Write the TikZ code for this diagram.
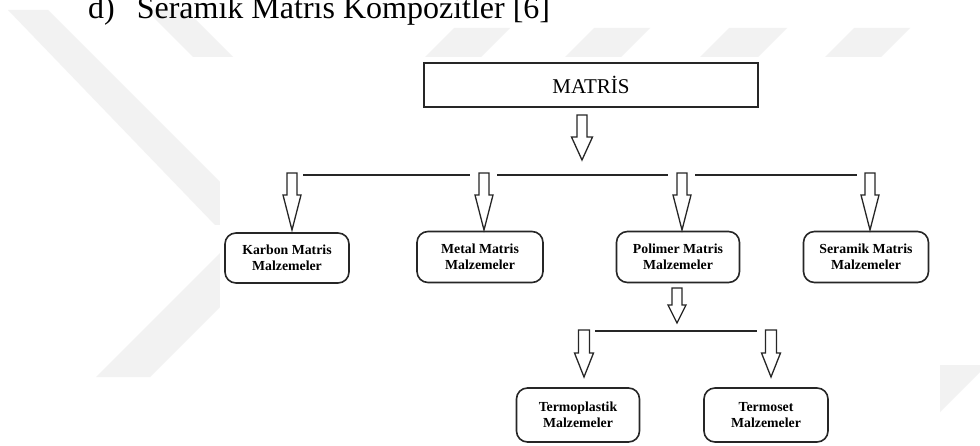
\documentclass[tikz,border=0pt]{standalone}
\usepackage{fontspec}
\setmainfont{Liberation Serif}
\begin{document}
\begin{tikzpicture}[x=1pt,y=-1pt,
  wm/.style={fill=black!5,draw=none},
  rbox/.style={draw=black!85,line width=1.6pt,rounded corners=11pt,inner sep=0pt,
    align=center,font=\bfseries\fontsize{13.8}{15.5}\selectfont},
  mbox/.style={draw=black!85,line width=1.6pt,inner sep=0pt,font=\fontsize{21}{24}\selectfont},
  hline/.style={draw=black!85,line width=1.6pt},
  barrow/.style={draw=black!85,line width=1.3pt,fill=white,line join=miter}]
\useasboundingbox (0,0) rectangle (980,446);
\fill[white] (0,0) rectangle (980,446);
% watermark stripes
\fill[wm] (8,10) -- (48,10) -- (220,182) -- (220,225) -- (215,225) -- cycle;
\fill[wm] (146,10) -- (186,10) -- (233,57) -- (193,57) -- cycle;
\fill[wm] (220,253) -- (220,307) -- (150,377) -- (96,377) -- cycle;
\fill[wm] (454,28) -- (510,28) -- (481,57) -- (425,57) -- cycle;
\fill[wm] (594,28) -- (650,28) -- (621,57) -- (565,57) -- cycle;
\fill[wm] (729,28) -- (787,28) -- (758,57) -- (700,57) -- cycle;
\fill[wm] (854,28) -- (910,28) -- (881,57) -- (825,57) -- cycle;
\fill[wm] (940,365) -- (980,365) -- (980,372) -- (906,446) -- (859,446) -- (940,365) -- cycle;
% white figure area
\fill[white] (220,57) rectangle (940,446);
% title
\node[anchor=base west,inner sep=0pt,font=\fontsize{32}{34}\selectfont] (title) at (88,18.5) {d)\hspace{22pt}Seramık Matrıs Kompozitler [6]};
% boxes
\node[mbox,minimum width=334pt,minimum height=44pt] (m) at (591,85) {MATRİS};
\node[rbox,minimum width=124pt,minimum height=50pt] (k) at (287,258) {Karbon Matris\\Malzemeler};
\node[rbox,minimum width=126pt,minimum height=51pt] (me) at (480,257) {Metal Matris\\Malzemeler};
\node[rbox,minimum width=123pt,minimum height=51pt] (p) at (678,257) {Polimer Matris\\Malzemeler};
\node[rbox,minimum width=125pt,minimum height=51pt] (s) at (866,257) {Seramik Matris\\Malzemeler};
\node[rbox,minimum width=123pt,minimum height=54pt] (tp) at (578,415) {Termoplastik\\Malzemeler};
\node[rbox,minimum width=124pt,minimum height=54pt] (ts) at (766,415) {Termoset\\Malzemeler};
% block arrows: #1 centre x, #2 top, #3 head start, #4 tip, #5 half shaft, #6 half head
\newcommand\blockarr[6]{\draw[barrow] (#1-#5,#2) -- (#1+#5,#2) -- (#1+#5,#3) -- (#1+#6,#3) -- (#1,#4) -- (#1-#6,#3) -- (#1-#5,#3) -- cycle;}
\blockarr{582}{115}{137}{160}{5}{10.5}
\blockarr{292}{173}{195}{230}{5}{9}
\blockarr{484}{173}{195}{230}{5}{9}
\blockarr{682}{173}{195}{230}{5}{9}
\blockarr{870}{173}{195}{230}{5}{9}
\blockarr{677}{288}{305}{323}{5}{9}
\blockarr{584}{330}{353}{377}{5.5}{9.5}
\blockarr{771}{330}{353}{377}{5.5}{9.5}
% horizontal lines
\coordinate (l1) at (303,175); \coordinate (l2) at (470,175);
\coordinate (l3) at (497,175); \coordinate (l4) at (668,175);
\coordinate (l5) at (695,175); \coordinate (l6) at (857,175);
\coordinate (l7) at (595,331); \coordinate (l8) at (757,331);
\draw[hline] (l1) -- (l2);
\draw[hline] (l3) -- (l4);
\draw[hline] (l5) -- (l6);
\draw[hline] (l7) -- (l8);
\end{tikzpicture}
\end{document}
